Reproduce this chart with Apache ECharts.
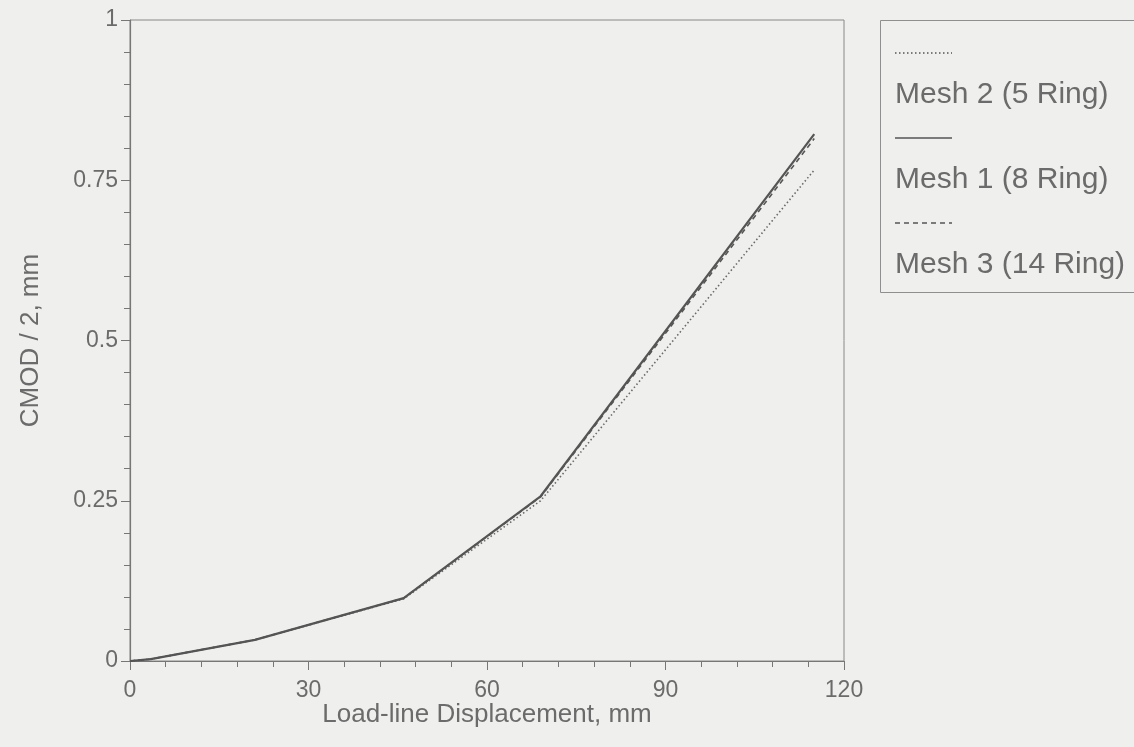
<!DOCTYPE html>
<html>
<head>
<meta charset="utf-8">
<script src="https://cdn.jsdelivr.net/npm/echarts@6/dist/echarts.min.js"></script>
<style>
html,body{margin:0;padding:0;background:#efefed;}
#c{width:1134px;height:747px;}
</style>
</head>
<body>
<div id="c"></div>
<script>
// Data
const displacement = [0, 3.5, 21, 46, 69, 115];           // Load-line Displacement, mm
const mesh1 = [0, 0.003, 0.033, 0.098, 0.257, 0.822];      // Mesh 1 (8 Ring)
const mesh2 = [0, 0.003, 0.033, 0.097, 0.250, 0.766];      // Mesh 2 (5 Ring)
const mesh3 = [0, 0.003, 0.033, 0.098, 0.256, 0.815];      // Mesh 3 (14 Ring)
const seriesNames = ['Mesh 2 (5 Ring)', 'Mesh 1 (8 Ring)', 'Mesh 3 (14 Ring)'];
const xTicks = [0, 30, 60, 90, 120];
const yTicks = [0, 0.25, 0.5, 0.75, 1];

const pair = (ys) => displacement.map((x, i) => [x, ys[i]]);
const lineColor = '#555555';
const textColor = '#6b6b6b';
const font = 'Liberation Sans, Arial, Helvetica, sans-serif';

const chart = echarts.init(document.getElementById('c'));

const legendLeft = 895, legendTop = 53, legendStep = 85;
const dashes = ['dotted', 'solid', 'dashed'];
const legendGraphics = [{
  type: 'rect',
  shape: {x: 880.5, y: 20.5, width: 270, height: 272},
  style: {fill: 'none', stroke: '#8f8f8f', lineWidth: 1}
}];
seriesNames.forEach((name, i) => {
  const y = legendTop + i * legendStep;
  legendGraphics.push({
    type: 'line',
    shape: {x1: legendLeft, y1: y, x2: legendLeft + 57, y2: y},
    style: {stroke: lineColor, lineWidth: 1.5,
      lineDash: dashes[i] === 'dotted' ? [1.5, 2.5] : dashes[i] === 'dashed' ? [5, 4] : null}
  });
  legendGraphics.push({
    type: 'text',
    x: legendLeft, y: y + 42,
    style: {text: name, fill: textColor, font: '30px ' + font, verticalAlign: 'middle', align: 'left'}
  });
});

const option = {
  backgroundColor: '#efefed',
  animation: false,
  grid: {left: 130, right: 290, top: 20, bottom: 86, show: true, borderColor: '#888', borderWidth: 1, backgroundColor: 'transparent'},
  xAxis: {
    type: 'value', min: xTicks[0], max: xTicks[xTicks.length - 1], interval: 30,
    name: 'Load-line Displacement, mm', nameLocation: 'middle', nameGap: 41, nameMoveOverlap: false,
    nameTextStyle: {color: textColor, fontSize: 26, fontFamily: font},
    axisLine: {show: true, onZero: false, lineStyle: {color: '#777', width: 1.2}},
    axisTick: {show: true, inside: false, length: 9, lineStyle: {color: '#777'}},
    minorTick: {show: true, splitNumber: 5, length: 6, lineStyle: {color: '#777'}},
    axisLabel: {color: textColor, fontSize: 23, fontFamily: font, margin: 18},
    splitLine: {show: false}
  },
  yAxis: {
    type: 'value', min: yTicks[0], max: yTicks[yTicks.length - 1], interval: 0.25,
    name: 'CMOD / 2, mm', nameLocation: 'middle', nameGap: 86, nameMoveOverlap: false,
    nameTextStyle: {color: textColor, fontSize: 26, fontFamily: font},
    axisLine: {show: true, onZero: false, lineStyle: {color: '#777', width: 1.2}},
    axisTick: {show: true, inside: false, length: 9, lineStyle: {color: '#777'}},
    minorTick: {show: true, splitNumber: 5, length: 6, lineStyle: {color: '#777'}},
    axisLabel: {color: textColor, fontSize: 23, fontFamily: font, margin: 12,
      formatter: v => String(+v.toFixed(2))},
    splitLine: {show: false}
  },
  series: [
    {name: seriesNames[0], type: 'line', data: pair(mesh2), showSymbol: false, symbol: 'none',
      lineStyle: {color: '#6a6a6a', width: 1.6, type: [1.5, 2.5]}, z: 2},
    {name: seriesNames[1], type: 'line', data: pair(mesh1), showSymbol: false, symbol: 'none',
      lineStyle: {color: lineColor, width: 2.2, type: 'solid'}, z: 3},
    {name: seriesNames[2], type: 'line', data: pair(mesh3), showSymbol: false, symbol: 'none',
      lineStyle: {color: lineColor, width: 1.6, type: [5, 4]}, z: 4}
  ],
  graphic: legendGraphics
};
chart.setOption(option);
</script>
</body>
</html>
